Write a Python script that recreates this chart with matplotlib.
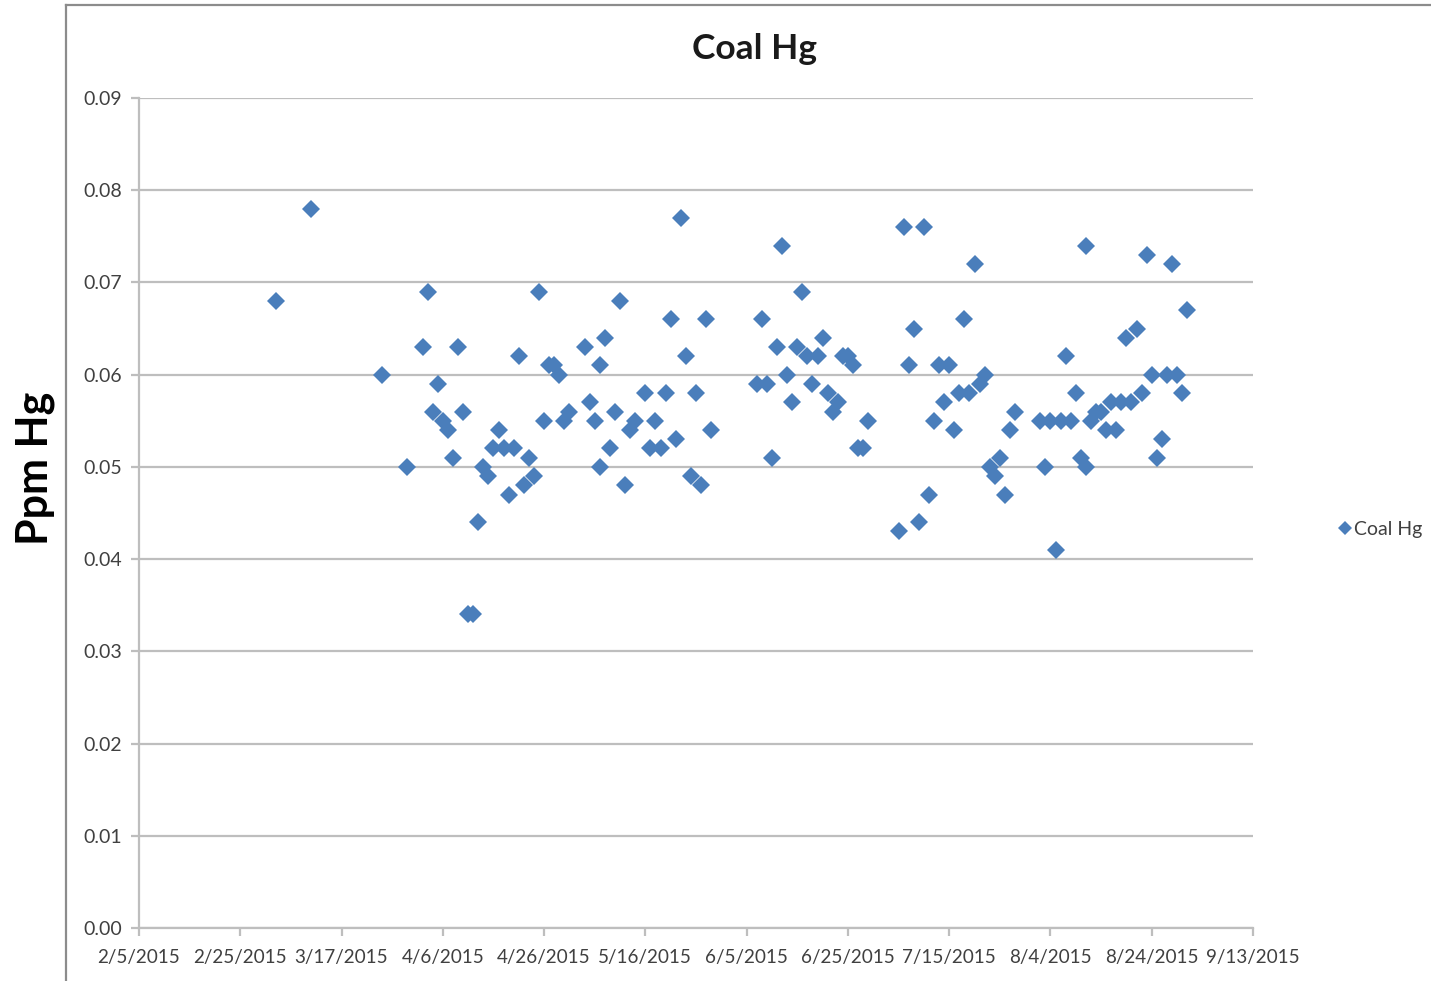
import datetime as dt
import matplotlib
matplotlib.use("Agg")
import matplotlib.pyplot as plt
import matplotlib.dates as mdates
from matplotlib.lines import Line2D
from matplotlib.ticker import FuncFormatter, MultipleLocator

plt.rcParams['font.family'] = ['Lato', 'DejaVu Sans']

# Sampling day (days after 2/5/2015) and mercury concentration in coal (ppm)
sample_day = [
    27, 34, 48, 53, 56, 57, 58, 59, 60, 61, 62, 63, 64, 65, 66, 67, 68, 69,
    70, 71, 72, 73, 74, 75, 76, 77, 78, 79, 80, 81, 82, 83, 84, 85, 88, 89,
    90, 91, 91, 92, 93, 94, 95, 96, 97, 98, 100, 101, 102, 103, 104, 105,
    106, 107, 108, 109, 110, 111, 112, 113,
    122, 123, 124, 125, 126, 127, 128, 129, 130, 131, 132, 133, 134, 135,
    136, 137, 138, 139, 140, 141, 142, 143, 144,
    150, 151, 152, 153, 154, 155, 156, 157, 158, 159, 160, 161, 162, 163,
    164, 165, 166, 167, 168, 169, 170, 171, 172, 173,
    178, 179, 180, 181, 182, 183, 184, 185, 186, 187, 187, 188, 189, 190,
    191, 192, 193, 194, 195, 196, 197, 198, 199, 200, 201, 202, 203, 204,
    205, 206, 207,
]
hg_ppm = [
    0.068, 0.078, 0.060, 0.050, 0.063, 0.069, 0.056, 0.059, 0.055, 0.054,
    0.051, 0.063, 0.056, 0.034, 0.034, 0.044, 0.050, 0.049,
    0.052, 0.054, 0.052, 0.047, 0.052, 0.062, 0.048, 0.051, 0.049, 0.069,
    0.055, 0.061, 0.061, 0.060, 0.055, 0.056, 0.063, 0.057,
    0.055, 0.050, 0.061, 0.064, 0.052, 0.056, 0.068, 0.048, 0.054, 0.055,
    0.058, 0.052, 0.055, 0.052, 0.058, 0.066,
    0.053, 0.077, 0.062, 0.049, 0.058, 0.048, 0.066, 0.054,
    0.059, 0.066, 0.059, 0.051, 0.063, 0.074, 0.060, 0.057, 0.063, 0.069,
    0.062, 0.059, 0.062, 0.064,
    0.058, 0.056, 0.057, 0.062, 0.062, 0.061, 0.052, 0.052, 0.055,
    0.043, 0.076, 0.061, 0.065, 0.044, 0.076, 0.047, 0.055, 0.061, 0.057,
    0.061, 0.054, 0.058, 0.066,
    0.058, 0.072, 0.059, 0.060, 0.050, 0.049, 0.051, 0.047, 0.054, 0.056,
    0.055, 0.050, 0.055, 0.041, 0.055, 0.062, 0.055, 0.058, 0.051, 0.074,
    0.050, 0.055, 0.056, 0.056,
    0.054, 0.057, 0.054, 0.057, 0.064, 0.057, 0.065, 0.058, 0.073, 0.060,
    0.051, 0.053, 0.060, 0.072,
    0.060, 0.058, 0.067,
]

start = dt.date(2015, 2, 5)
end = dt.date(2015, 9, 13)
dates = [start + dt.timedelta(days=d) for d in sample_day]

W, H = 1431, 981
fig = plt.figure(figsize=(W / 100, H / 100), dpi=100)
ax = fig.add_axes([139 / W, 1 - 928 / H, (1253 - 139) / W, (928 - 98) / H])

blue = '#4a7ebb'
ax.plot(dates, hg_ppm, linestyle='none', marker='D', markersize=9,
        color=blue, markeredgewidth=0, label='Coal Hg', zorder=3)

ax.set_xlim(mdates.date2num(start), mdates.date2num(end))
ax.set_ylim(0, 0.09)
ax.yaxis.set_major_locator(MultipleLocator(0.01))
ax.yaxis.set_major_formatter(FuncFormatter(lambda v, p: f"{v:.2f}"))

ticks = [start + dt.timedelta(days=20 * i) for i in range(11)] + [end]
ax.set_xticks([mdates.date2num(t) for t in ticks])
ax.set_xticklabels([f"{t.month}/{t.day}/{t.year}" for t in ticks])

grid_c = '#bebebe'
ax.grid(axis='y', color=grid_c, linewidth=1.6)
ax.set_axisbelow(True)
for s in ('top', 'right'):
    ax.spines[s].set_visible(False)
for s in ('left', 'bottom'):
    ax.spines[s].set_color(grid_c)
    ax.spines[s].set_linewidth(1.6)
ax.tick_params(axis='both', colors=grid_c, length=6, width=1.6,
               labelcolor='#404040')
ax.tick_params(axis='y', pad=6, labelsize=14)
ax.tick_params(axis='x', pad=9, labelsize=13.6)

fig.text(754 / W, 1 - 49 / H, 'Coal Hg', ha='center', va='center',
         fontsize=25.5, fontweight='bold', color='#1a1a1a')
fig.text(35 / W, 1 - 468 / H, 'Ppm Hg', ha='center', va='center',
         rotation=90, fontsize=31, fontweight='bold', color='#000000')

ax.legend(loc='center left', bbox_to_anchor=(1190 / (1253 - 139), (928 - 529) / (928 - 98)),
          frameon=False, fontsize=14, handletextpad=0.1, handlelength=0.8,
          markerscale=0.75, labelcolor='#404040', borderaxespad=0)

# Chart-area border
border_c = '#8c8c8c'
fig.add_artist(Line2D([66 / W, 66 / W], [0, 1 - 5 / H], transform=fig.transFigure,
                      color=border_c, linewidth=1.6))
fig.add_artist(Line2D([66 / W, 1], [1 - 5 / H, 1 - 5 / H], transform=fig.transFigure,
                      color=border_c, linewidth=1.6))

fig.savefig('out.png', dpi=100)
